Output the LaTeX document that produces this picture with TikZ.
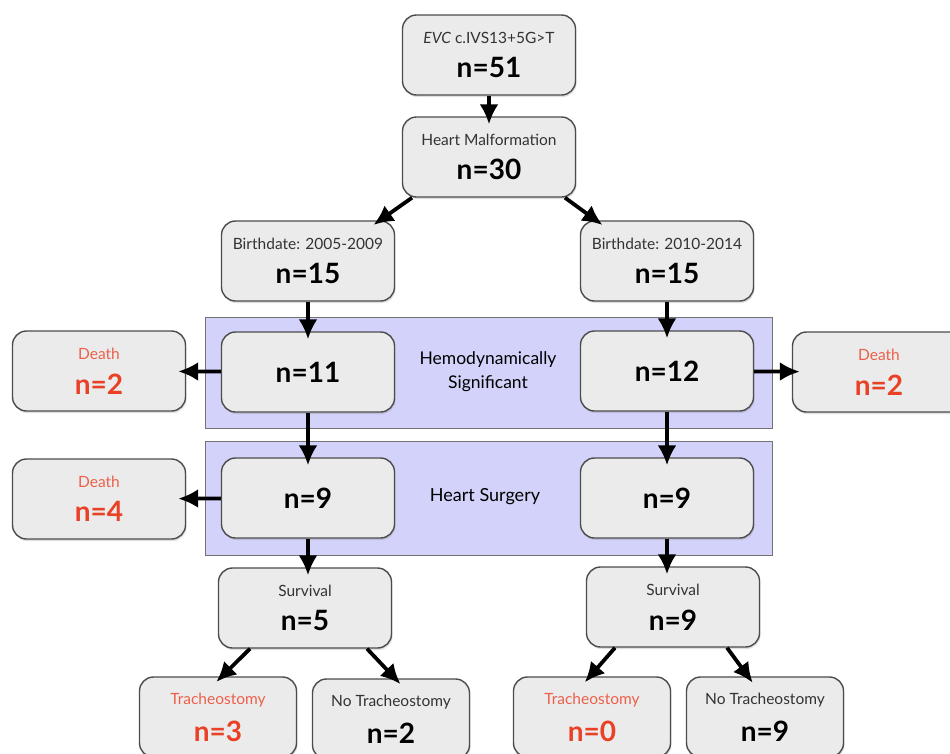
\documentclass[tikz,border=0pt]{standalone}
\usepackage{fontspec}
\setmainfont{Lato}
\usetikzlibrary{arrows.meta,positioning,calc,shadows}
\definecolor{boxgray}{RGB}{235,235,235}
\definecolor{bandblue}{RGB}{210,210,250}
\definecolor{deathred}{RGB}{236,96,74}
\definecolor{numred}{RGB}{234,64,38}
\newcommand{\lbl}[1]{{\fontsize{15.5}{18}\selectfont\color{black!80}#1}}
\newcommand{\num}[1]{{\fontsize{28}{30}\selectfont\bfseries #1}}

\begin{document}
\begin{tikzpicture}[x=1pt,y=-1pt,
    box/.style={draw=black!70,line width=1.4pt,fill=boxgray,rounded corners=14pt,
      minimum width=173pt,minimum height=80pt,align=center,inner sep=0pt,
      drop shadow={shadow xshift=1pt,shadow yshift=-2pt,opacity=0.25}},
    smallbox/.style={box,minimum width=157pt},
    band/.style={draw=black!55,line width=1pt,fill=bandblue},
    arr/.style={-{Latex[length=20pt,width=19pt]},line width=3.8pt,shorten >=-8pt}]
    \clip (0,0) rectangle (950,753);
    \fill[white] (0,0) rectangle (950,753);

    % shaded stages
    \draw[band] (205,317) rectangle (772,428);
    \draw[band] (205,441) rectangle (772,555);
    \node[align=center,font=\fontsize{17.5}{24}\selectfont] (hemolbl) at (488,372) {Hemodynamically\\Significant};
    \node[font=\fontsize{18}{20}\selectfont] (surglbl) at (485,497) {Heart Surgery};

    \node[box] (evc) at (489,55) {\lbl{\textit{EVC} c.IVS13+5G>T}\\[13pt]\num{n=51}};
    \node[box] (malf) at (489,157) {\lbl{Heart Malformation}\\[13pt]\num{n=30}};
    \node[box] (bd1) at (308,261) {\lbl{Birthdate: 2005-2009}\\[13pt]\num{n=15}};
    \node[box] (bd2) at (667,261) {\lbl{Birthdate: 2010-2014}\\[13pt]\num{n=15}};

    \node[box] (hemo1) at (308,372) {\num{n=11}};
    \node[box] (hemo2) at (667,371) {\num{n=12}};
    \node[box] (death1) at (99,371) {\lbl{\color{deathred}Death}\\[13pt]\num{\color{numred}n=2}};
    \node[box] (death2) at (879,372) {\lbl{\color{deathred}Death}\\[13pt]\num{\color{numred}n=2}};

    \node[box] (surg1) at (308,498) {\num{n=9}};
    \node[box] (surg2) at (667,498) {\num{n=9}};
    \node[box] (death3) at (99,499) {\lbl{\color{deathred}Death}\\[13pt]\num{\color{numred}n=4}};

    \node[box] (surv1) at (305,608) {\lbl{Survival}\\[13pt]\num{n=5}};
    \node[box] (surv2) at (673,607) {\lbl{Survival}\\[13pt]\num{n=9}};

    \node[smallbox] (trach1) at (218,717) {\lbl{\color{deathred}Tracheostomy}\\[13pt]\num{\color{numred}n=3}};
    \node[smallbox] (notrach1) at (391,719) {\lbl{No Tracheostomy}\\[13pt]\num{n=2}};
    \node[smallbox] (trach2) at (592,717) {\lbl{\color{deathred}Tracheostomy}\\[13pt]\num{\color{numred}n=0}};
    \node[smallbox] (notrach2) at (765,717) {\lbl{No Tracheostomy}\\[13pt]\num{n=9}};

    \draw[arr] (evc) -- (malf);
    \draw[arr] ($(malf.south)+(-77,0)$) -- ($(bd1.north)+(72,0)$);
    \draw[arr] ($(malf.south)+(76,0)$) -- ($(bd2.north)+(-71,0)$);
    \draw[arr] (bd1) -- (hemo1);
    \draw[arr] (bd2) -- (hemo2);
    \draw[arr] (hemo1) -- (death1);
    \draw[arr] (hemo2) -- (death2);
    \draw[arr] (hemo1) -- (surg1);
    \draw[arr] (hemo2) -- (surg2);
    \draw[arr] (surg1) -- (death3);
    \draw[arr] (surg1.south) -- (surg1.south |- surv1.north);
    \draw[arr] (surg2.south) -- (surg2.south |- surv2.north);
    \draw[arr] ($(surv1.south)+(-55,0)$) -- ($(trach1.north)+(4,0)$);
    \draw[arr] ($(surv1.south)+(62,0)$) -- ($(notrach1.north)+(4,0)$);
    \draw[arr] ($(surv2.south)+(-58,0)$) -- ($(trach2.north)+(-2,0)$);
    \draw[arr] ($(surv2.south)+(54,0)$) -- ($(notrach2.north)+(-17,0)$);
\end{tikzpicture}
\end{document}
